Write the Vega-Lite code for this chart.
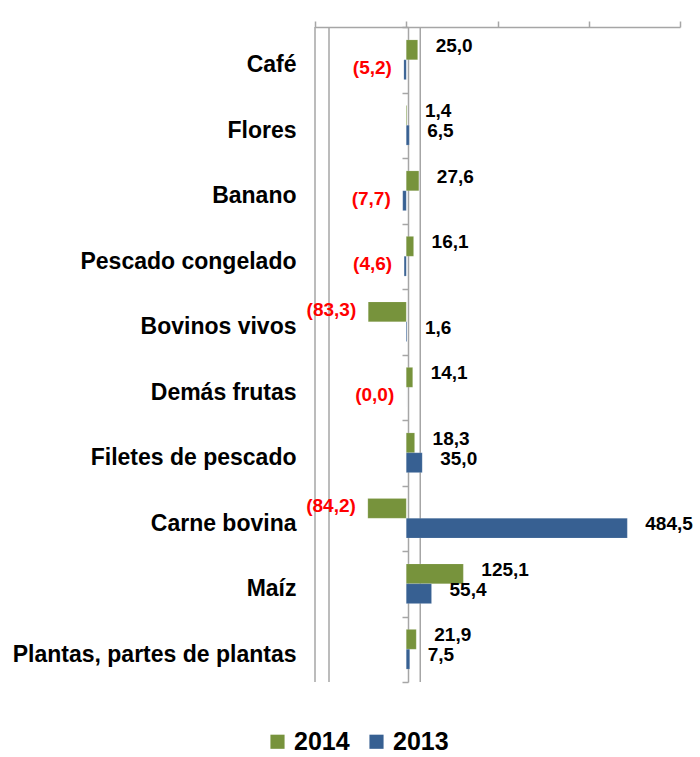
{
  "$schema": "https://vega.github.io/schema/vega-lite/v6.json",
  "autosize": {"type": "none"},
  "width": 365,
  "height": 655,
  "padding": {"left": 315, "top": 27, "right": 20, "bottom": 75},
  "config": {"view": {"stroke": null}, "font": "Liberation Sans"},
  "data": {"values": [
    {"cat": "Café", "year": "2014", "value": 25.0, "label": "25,0"},
    {"cat": "Café", "year": "2013", "value": -5.2, "label": "(5,2)"},
    {"cat": "Flores", "year": "2014", "value": 1.4, "label": "1,4"},
    {"cat": "Flores", "year": "2013", "value": 6.5, "label": "6,5"},
    {"cat": "Banano", "year": "2014", "value": 27.6, "label": "27,6"},
    {"cat": "Banano", "year": "2013", "value": -7.7, "label": "(7,7)"},
    {"cat": "Pescado congelado", "year": "2014", "value": 16.1, "label": "16,1"},
    {"cat": "Pescado congelado", "year": "2013", "value": -4.6, "label": "(4,6)"},
    {"cat": "Bovinos vivos", "year": "2014", "value": -83.3, "label": "(83,3)"},
    {"cat": "Bovinos vivos", "year": "2013", "value": 1.6, "label": "1,6"},
    {"cat": "Demás frutas", "year": "2014", "value": 14.1, "label": "14,1"},
    {"cat": "Demás frutas", "year": "2013", "value": -0.04, "label": "(0,0)"},
    {"cat": "Filetes de pescado", "year": "2014", "value": 18.3, "label": "18,3"},
    {"cat": "Filetes de pescado", "year": "2013", "value": 35.0, "label": "35,0"},
    {"cat": "Carne bovina", "year": "2014", "value": -84.2, "label": "(84,2)"},
    {"cat": "Carne bovina", "year": "2013", "value": 484.5, "label": "484,5"},
    {"cat": "Maíz", "year": "2014", "value": 125.1, "label": "125,1"},
    {"cat": "Maíz", "year": "2013", "value": 55.4, "label": "55,4"},
    {"cat": "Plantas, partes de plantas", "year": "2014", "value": 21.9, "label": "21,9"},
    {"cat": "Plantas, partes de plantas", "year": "2013", "value": 7.5, "label": "7,5"}
  ]},
  "encoding": {
    "y": {
      "field": "cat", "type": "nominal", "sort": null,
      "scale": {"paddingInner": 0, "paddingOuter": 0},
      "axis": {"title": null, "offset": -93, "domain": true, "domainColor": "#a6a6a6", "domainWidth": 1.5,
               "ticks": true, "tickBand": "extent", "tickColor": "#a6a6a6", "tickSize": 6, "tickWidth": 1.5,
               "labelPadding": 106, "labelOffset": 5, "labelFontSize": 23, "labelFontWeight": "bold", "labelColor": "#000000", "labelLimit": 0}
    }
  },
  "layer": [
    {
      "mark": {"type": "rule", "color": "#a6a6a6", "strokeWidth": 1.5},
      "data": {"values": [{"v": -200}]},
      "encoding": {"x": {"field": "v", "type": "quantitative", "scale": {"domain": [-200, 600]}}, "y": null}
    },
    {
      "mark": {"type": "rule", "color": "#a6a6a6", "strokeWidth": 1.5, "xOffset": 14},
      "data": {"values": [{"v": -200}, {"v": 0}]},
      "encoding": {"x": {"field": "v", "type": "quantitative"}, "y": null}
    },
    {
      "mark": {"type": "bar", "stroke": "#ffffff", "strokeOpacity": 0.3, "strokeWidth": 0.5},
      "encoding": {
        "x": {"field": "value", "type": "quantitative",
              "scale": {"domain": [-200, 600], "nice": false},
              "axis": {"orient": "top", "title": null, "labels": false, "grid": false, "values": [-200, 0, 200, 400, 600],
                       "domainColor": "#a6a6a6", "domainWidth": 1.5, "tickColor": "#a6a6a6", "tickSize": 6, "tickWidth": 1.5}},
        "yOffset": {"field": "year", "type": "nominal", "sort": ["2014", "2013"],
                    "scale": {"paddingInner": 0, "paddingOuter": 0.65}},
        "color": {"field": "year", "type": "nominal", "sort": ["2014", "2013"],
                  "scale": {"domain": ["2014", "2013"], "range": ["#77933c", "#376092"]},
                  "legend": {"title": null, "orient": "none", "direction": "horizontal", "legendX": -50, "legendY": 702,
                             "symbolType": "square", "symbolSize": 200, "symbolStrokeWidth": 0,
                             "labelFontSize": 25, "labelFontWeight": "bold", "labelColor": "#000000", "columnPadding": 14, "labelOffset": 4}}
      }
    },
    {
      "transform": [{"filter": "datum.value >= 0"}],
      "mark": {"type": "text", "align": "left", "baseline": "middle", "dx": 18, "dy": -4, "fontSize": 19, "fontWeight": "bold", "color": "#000000"},
      "encoding": {
        "x": {"field": "value", "type": "quantitative"},
        "yOffset": {"field": "year", "type": "nominal", "sort": ["2014", "2013"]},
        "text": {"field": "label"}
      }
    },
    {
      "transform": [{"filter": "datum.value < 0"}],
      "mark": {"type": "text", "align": "right", "baseline": "middle", "dx": -12, "dy": -2, "fontSize": 19, "fontWeight": "bold", "color": "#ff0000"},
      "encoding": {
        "x": {"field": "value", "type": "quantitative"},
        "yOffset": {"field": "year", "type": "nominal", "sort": ["2014", "2013"]},
        "text": {"field": "label"}
      }
    }
  ]
}
